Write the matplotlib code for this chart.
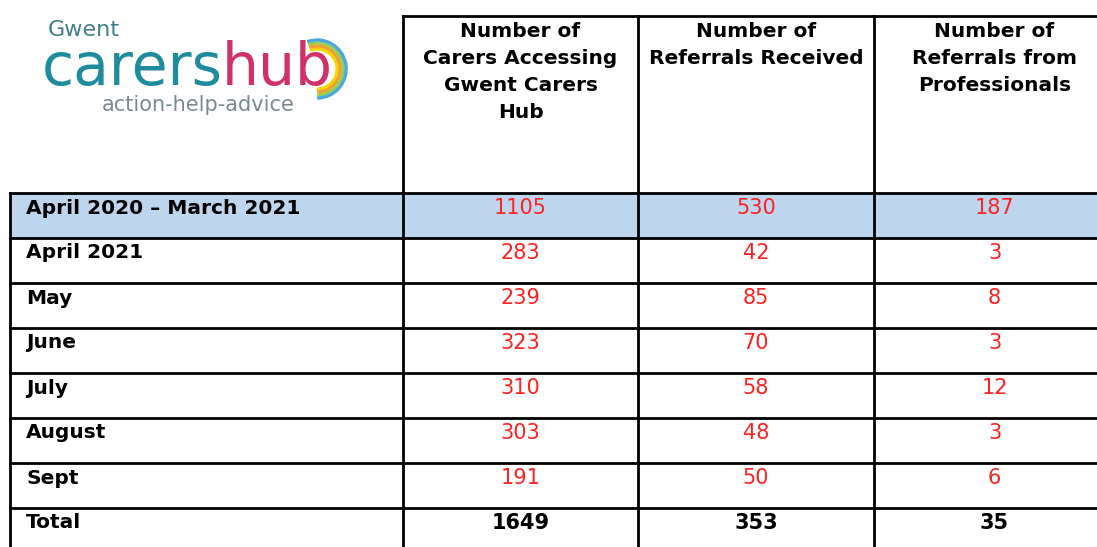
import matplotlib.pyplot as plt
from matplotlib.patches import Rectangle, Arc

W, H = 1097, 547

# table content
headers = [
    "Number of\nCarers Accessing\nGwent Carers\nHub",
    "Number of\nReferrals Received",
    "Number of\nReferrals from\nProfessionals",
]
periods = ["April 2020 \u2013 March 2021", "April 2021", "May", "June",
           "July", "August", "Sept", "Total"]
carers = [1105, 283, 239, 323, 310, 303, 191, 1649]
referrals = [530, 42, 85, 70, 58, 48, 50, 353]
professionals = [187, 3, 8, 3, 12, 3, 6, 35]

# layout (pixels)
col_x = [10, 403, 638, 874, 1115]
head_top = 16
row_top = 193
row_h = 45
lw = 2.0

fig = plt.figure(figsize=(W / 100, H / 100), dpi=100)
ax = fig.add_axes([0, 0, 1, 1])
ax.set_xlim(0, W)
ax.set_ylim(H, 0)
ax.axis("off")

n_rows = len(periods)
row_y = [row_top + i * row_h for i in range(n_rows + 1)]

# highlighted first row
ax.add_patch(Rectangle((col_x[0], row_y[0]), col_x[-1] - col_x[0], row_h,
                       facecolor="#bdd5ed", edgecolor="none", zorder=0))

# grid lines
ax.plot([col_x[1], col_x[-1]], [head_top, head_top], color="black", lw=lw)
for y in row_y:
    ax.plot([col_x[0], col_x[-1]], [y, y], color="black", lw=lw)
ax.plot([col_x[0], col_x[0]], [row_y[0], row_y[-1]], color="black", lw=lw)
for x in col_x[1:4]:
    ax.plot([x, x], [head_top, row_y[-1]], color="black", lw=lw)

# header text
for j, h in enumerate(headers):
    cx = (col_x[j + 1] + col_x[j + 2]) / 2
    ax.text(cx, head_top + 6, h, ha="center", va="top", fontsize=14.5,
            fontweight="bold", family="DejaVu Sans", linespacing=1.54)

# body text
for i, p in enumerate(periods):
    yb = row_y[i] + 20.5
    bold = p == "Total"
    ax.text(col_x[0] + 16, yb, p, ha="left", va="baseline", fontsize=14.5,
            fontweight="bold", family="DejaVu Sans")
    for j, vals in enumerate([carers, referrals, professionals]):
        cx = (col_x[j + 1] + col_x[j + 2]) / 2
        ax.text(cx, yb + 0.5, str(vals[i]), ha="center", va="baseline",
                fontsize=15, fontweight="bold" if bold else "normal",
                color="black" if bold else "#ff2020", family="DejaVu Sans")

# logo
ax.text(48, 36.5, "Gwent", ha="left", va="baseline", fontsize=16,
        color="#3f7f8c", family="DejaVu Sans")
t1 = ax.text(42, 85, "carers", ha="left", va="baseline", fontsize=42,
             color="#1f8c9e", family="DejaVu Sans")
fig.canvas.draw()
x_end = ax.transData.inverted().transform(
    t1.get_window_extent().get_points())[:, 0].max()
t2 = ax.text(x_end - 1, 85, "hub", ha="left", va="baseline", fontsize=42,
             color="#d2306a", family="DejaVu Sans")
fig.canvas.draw()
hub_end = ax.transData.inverted().transform(
    t2.get_window_extent().get_points())[:, 0].max()
bc = (hub_end - 16, 69)
for d, c in zip([40, 46, 52, 58], ["#f5d800", "#f4a030", "#9ccc50", "#4aa8dc"]):
    ax.add_patch(Arc(bc, d, d, theta1=-110, theta2=90, color=c, lw=2.4))
ax.text(198, 111, "action-help-advice", ha="center", va="baseline",
        fontsize=15, color="#7a8a90", family="DejaVu Sans")

fig.savefig("out.png", dpi=100)
